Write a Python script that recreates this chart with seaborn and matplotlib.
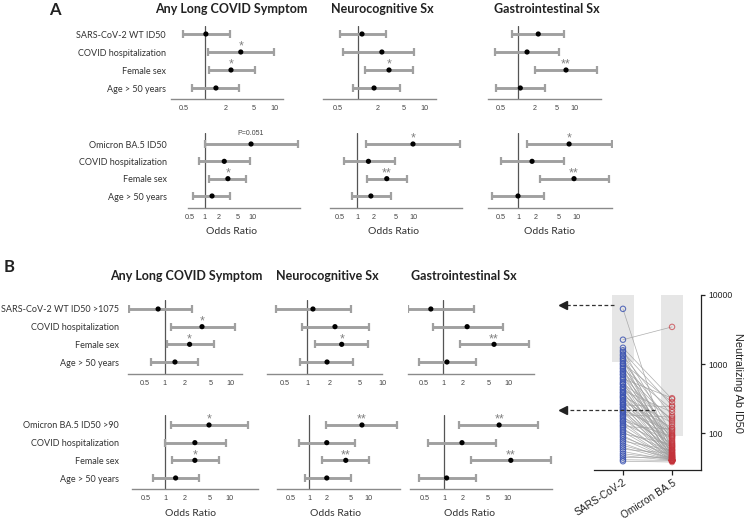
import numpy as np
import pandas as pd
import matplotlib
matplotlib.use("Agg")
import matplotlib.pyplot as plt
from matplotlib.patches import Rectangle
from matplotlib.ticker import NullLocator
import seaborn as sns

# ---------------- data ----------------
labels_A_top = ["SARS-CoV-2 WT ID50", "COVID hospitalization", "Female sex", "Age > 50 years"]
labels_A_bot = ["Omicron BA.5 ID50", "COVID hospitalization", "Female sex", "Age > 50 years"]
labels_B_top = ["SARS-CoV-2 WT ID50 >1075", "COVID hospitalization", "Female sex", "Age > 50 years"]
labels_B_bot = ["Omicron BA.5 ID50 >90", "COVID hospitalization", "Female sex", "Age > 50 years"]
outcomes = ["Any Long COVID Symptom", "Neurocognitive Sx", "Gastrointestinal Sx"]

# odds ratio, lower CI, upper CI, significance
A_top_any_or = [1.03, 3.3, 2.38, 1.44]
A_top_any_lo = [0.48, 1.1, 1.14, 0.65]
A_top_any_hi = [2.3, 10.0, 5.3, 3.1]
A_top_any_sig = ["", "*", "*", ""]
A_top_neu_or = [1.15, 2.3, 2.95, 1.75]
A_top_neu_lo = [0.53, 0.6, 1.28, 0.84]
A_top_neu_hi = [2.65, 7.0, 6.8, 4.3]
A_top_neu_sig = ["", "", "*", ""]
A_top_gi_or = [2.3, 1.45, 7.2, 1.1]
A_top_gi_lo = [0.78, 0.39, 2.0, 0.40]
A_top_gi_hi = [6.6, 5.4, 25.7, 3.0]
A_top_gi_sig = ["", "", "**", ""]

A_bot_any_or = [9.5, 2.6, 3.1, 1.44]
A_bot_any_lo = [1.0, 0.77, 1.25, 0.57]
A_bot_any_hi = [91, 8.9, 7.4, 3.4]
A_bot_any_sig = ["P=0.051", "", "*", ""]
A_bot_neu_or = [10.0, 1.6, 3.4, 1.77]
A_bot_neu_lo = [1.45, 0.59, 1.5, 0.81]
A_bot_neu_hi = [69, 4.8, 7.8, 4.0]
A_bot_neu_sig = ["*", "", "**", ""]
A_bot_gi_or = [7.5, 1.74, 9.1, 1.0]
A_bot_gi_lo = [1.43, 0.51, 2.4, 0.36]
A_bot_gi_hi = [41, 6.1, 36, 2.8]
A_bot_gi_sig = ["*", "", "**", ""]

B_top_any_or = [0.8, 3.7, 2.4, 1.44]
B_top_any_lo = [0.29, 1.25, 1.1, 0.63]
B_top_any_hi = [2.6, 11.7, 5.6, 3.2]
B_top_any_sig = ["", "*", "*", ""]
B_top_neu_or = [1.2, 2.36, 2.9, 1.85]
B_top_neu_lo = [0.39, 0.86, 1.28, 0.81]
B_top_neu_hi = [3.9, 6.7, 6.5, 4.1]
B_top_neu_sig = ["", "", "*", ""]
B_top_gi_or = [0.65, 2.35, 6.1, 1.15]
B_top_gi_lo = [0.29, 0.7, 1.8, 0.43]
B_top_gi_hi = [3.0, 8.4, 21, 3.2]
B_top_gi_sig = ["", "", "**", ""]

B_bot_any_or = [4.8, 2.9, 2.9, 1.46]
B_bot_any_lo = [1.24, 1.0, 1.3, 0.65]
B_bot_any_hi = [19.5, 8.8, 6.9, 3.4]
B_bot_any_sig = ["*", "", "*", ""]
B_bot_neu_or = [7.9, 2.0, 4.2, 2.0]
B_bot_neu_lo = [1.94, 0.68, 1.66, 0.86]
B_bot_neu_hi = [31, 6.0, 10.4, 5.1]
B_bot_neu_sig = ["**", "", "**", ""]
B_bot_gi_or = [7.5, 1.93, 11.5, 1.1]
B_bot_gi_lo = [1.73, 0.56, 2.7, 0.4]
B_bot_gi_hi = [31, 6.7, 50, 3.2]
B_bot_gi_sig = ["**", "", "**", ""]

ticks_no1 = [0.5, 2, 5, 10]
ticks_all = [0.5, 1, 2, 5, 10]

# paired neutralizing titers
wt_id50 = [6300, 2250, 1720, 1580, 1490, 1380, 1310, 1220, 1160, 1090,
           1020, 985, 930, 880, 845, 790, 760, 715, 690, 640,
           615, 580, 545, 520, 505, 470, 455, 430, 415, 392,
           380, 360, 342, 330, 318, 300, 288, 276, 262, 255,
           240, 232, 221, 212, 203, 196, 184, 176, 168, 160,
           151, 146, 138, 130, 124, 117, 110, 104, 98, 92,
           87, 81, 76, 71, 66, 62, 58, 54, 50, 47,
           44, 41, 39]
ba5_id50 = [40, 3450, 310, 95, 250, 60, 180, 75, 45, 130,
            280, 55, 88, 42, 220, 65, 150, 48, 100, 70,
            320, 52, 40, 160, 85, 44, 110, 62, 200, 47,
            78, 40, 140, 58, 92, 43, 120, 66, 40, 240,
            50, 82, 41, 105, 57, 46, 170, 40, 72, 49,
            90, 40, 63, 44, 115, 40, 53, 41, 68, 40,
            47, 40, 56, 40, 43, 40, 51, 40, 42, 40,
            45, 40, 38]
virus_names = ["SARS-CoV-2", "Omicron BA.5"]
wt_cut, ba5_cut = 1075, 90

# ---------------- style ----------------
sns.set_theme(style="white")
plt.rcParams["font.family"] = ["Lato", "DejaVu Sans"]
W, H = 750, 522
fig = plt.figure(figsize=(7.5, 5.22), dpi=100)
TXT = "#333333"


def px_axes(l, t, r, b):
    return fig.add_axes([l / W, 1 - b / H, (r - l) / W, (b - t) / H])


def forest(geom, rows_px, top_px, axis_px, o, lo, hi, sig, ticks, labels=None, lab_right=None):
    l, r, one, ppd = geom
    ax = px_axes(l, top_px, r, axis_px)
    df = pd.DataFrame({"OR": o, "lo": lo, "hi": hi, "row": np.arange(len(o))})
    ax.set_xscale("log")
    ax.errorbar(df["OR"], df["row"], xerr=[df["OR"] - df["lo"], df["hi"] - df["OR"]],
                fmt="none", ecolor="#a0a0a0", elinewidth=2.1, capsize=2.6, capthick=1.6, zorder=2)
    ax.axvline(1, color="#555555", lw=0.9, zorder=1)
    sns.scatterplot(data=df, x="OR", y="row", color="black", s=14, edgecolor="none",
                    zorder=3, ax=ax, legend=False)
    for i, s in enumerate(sig):
        if not s:
            continue
        if s.startswith("P"):
            ax.text(o[i], i - 0.6, s, ha="center", va="center", fontsize=5,
                    color="#444", family=["Liberation Sans"])
        else:
            ax.text(o[i], i - 0.3, s, ha="center", va="center", fontsize=9,
                    color="#808080", family=["Liberation Sans"])
    r0 = rows_px[0]
    dr = (rows_px[-1] - rows_px[0]) / 3
    ax.set_xlim(10 ** ((l - one) / ppd), 10 ** ((r - one) / ppd))
    ax.set_ylim((axis_px - r0) / dr, (top_px - r0) / dr)
    ax.xaxis.set_minor_locator(NullLocator())
    ax.set_xticks(ticks)
    ax.set_xticklabels([("%g" % t) for t in ticks], fontsize=5.2, color="#444",
                       family=["Liberation Sans"])
    ax.tick_params(axis="x", length=0, pad=4.5)
    for sp in ["left", "top", "right"]:
        ax.spines[sp].set_visible(False)
    ax.spines["bottom"].set_color("#8a8a8a")
    ax.spines["bottom"].set_linewidth(1.0)
    if labels is not None:
        ax.set_yticks(range(4))
        ax.set_yticklabels(labels, fontsize=6.5, color=TXT)
        ax.tick_params(axis="y", length=0, pad=(l - lab_right) * 0.72)
    else:
        ax.set_yticks([])
    ax.set_xlabel("")
    ax.set_ylabel("")
    ax.set_facecolor("none")
    return ax


# ---- panel A ----
rowsAt, topAt, axAt = [34, 52, 70, 88], 26, 99
forest((171, 283, 205, 69), rowsAt, topAt, axAt, A_top_any_or, A_top_any_lo, A_top_any_hi,
       A_top_any_sig, ticks_no1, labels_A_top, 166)
forest((323, 436, 358, 66), rowsAt, topAt, axAt, A_top_neu_or, A_top_neu_lo, A_top_neu_hi,
       A_top_neu_sig, ticks_no1)
forest((488, 601, 518, 56), rowsAt, topAt, axAt, A_top_gi_or, A_top_gi_lo, A_top_gi_hi,
       A_top_gi_sig, ticks_no1)

rowsAb, topAb, axAb = [144, 162, 179, 196], 133, 208
forest((188, 300, 204.5, 47.6), rowsAb, topAb, axAb, A_bot_any_or, A_bot_any_lo, A_bot_any_hi,
       A_bot_any_sig, ticks_all, labels_A_bot, 167)
forest((330, 462, 357, 56), rowsAb, topAb, axAb, A_bot_neu_or, A_bot_neu_lo, A_bot_neu_hi,
       A_bot_neu_sig, ticks_all)
forest((488, 612, 518, 58.4), rowsAb, topAb, axAb, A_bot_gi_or, A_bot_gi_lo, A_bot_gi_hi,
       A_bot_gi_sig, ticks_all)

# ---- panel B ----
rowsBt, topBt, axBt = [309, 327, 344, 362], 300, 374
forest((128, 242, 164.5, 66), rowsBt, topBt, axBt, B_top_any_or, B_top_any_lo, B_top_any_hi,
       B_top_any_sig, ticks_all, labels_B_top, 119)
forest((267, 382, 307, 75), rowsBt, topBt, axBt, B_top_neu_or, B_top_neu_lo, B_top_neu_hi,
       B_top_neu_sig, ticks_all)
forest((408, 534, 443, 65), rowsBt, topBt, axBt, B_top_gi_or, B_top_gi_lo, B_top_gi_hi,
       B_top_gi_sig, ticks_all)

rowsBb, topBb, axBb = [425, 443, 461, 478], 415, 489
forest((132, 258, 165, 64.6), rowsBb, topBb, axBb, B_bot_any_or, B_bot_any_lo, B_bot_any_hi,
       B_bot_any_sig, ticks_all, labels_B_bot, 119)
forest((277, 400, 309, 59), rowsBb, topBb, axBb, B_bot_neu_or, B_bot_neu_lo, B_bot_neu_hi,
       B_bot_neu_sig, ticks_all)
forest((410, 552, 444, 63), rowsBb, topBb, axBb, B_bot_gi_or, B_bot_gi_lo, B_bot_gi_hi,
       B_bot_gi_sig, ticks_all)


def ftext(x, y, s, **kw):
    fig.text(x / W, 1 - y / H, s, **kw)


ftext(55, 10, "A", fontsize=12, fontweight="bold", color="#222", ha="center", va="center")
ftext(9, 267, "B", fontsize=12, fontweight="bold", color="#222", ha="center", va="center")
for x, t in zip([231, 382, 547], outcomes):
    ftext(x, 9, t, fontsize=9, fontweight="bold", color="#222", ha="center", va="center")
for x, t in zip([186, 327, 464], outcomes):
    ftext(x, 276, t, fontsize=9, fontweight="bold", color="#222", ha="center", va="center")
for x in [231, 394, 550]:
    ftext(x, 231, "Odds Ratio", fontsize=7.5, color=TXT, ha="center", va="center")
for x in [190, 336, 469]:
    ftext(x, 513, "Odds Ratio", fontsize=7.5, color=TXT, ha="center", va="center")

# ---- right paired panel ----
axr = px_axes(594, 295, 701, 470)
n = len(wt_id50)
long = pd.DataFrame({
    "subj": list(range(n)) * 2,
    "pos": [0] * n + [1] * n,
    "virus": [virus_names[0]] * n + [virus_names[1]] * n,
    "ID50": wt_id50 + ba5_id50,
})
axr.set_yscale("log")
axr.add_patch(Rectangle((-0.23, wt_cut), 0.46, 10000 - wt_cut, color="#e6e6e6", lw=0, zorder=0))
axr.add_patch(Rectangle((0.77, ba5_cut), 0.46, 10000 - ba5_cut, color="#e6e6e6", lw=0, zorder=0))
sns.lineplot(data=long, x="pos", y="ID50", units="subj", estimator=None, color="#a0a0a0",
             lw=0.5, alpha=0.85, ax=axr, legend=False, sort=False, zorder=1)
for name, col, al in zip(virus_names, ["#3850b0", "#c4323a"], [0.8, 0.65]):
    sub = long[long["virus"] == name]
    sns.scatterplot(data=sub, x="pos", y="ID50", ax=axr, s=15, color=col, legend=False, zorder=3)
    coll = axr.collections[-1]
    coll.set_facecolor("none")
    coll.set_edgecolor(col)
    coll.set_linewidth(0.8)
    coll.set_alpha(al)

axr.set_xlim(-0.59, 1.59)
axr.set_ylim(10 ** 1.464, 10000)
axr.yaxis.set_minor_locator(NullLocator())
axr.yaxis.tick_right()
axr.set_yticks([100, 1000, 10000])
axr.set_yticklabels(["100", "1000", "10000"], fontsize=6.2, color="#222", family=["Liberation Sans"])
axr.set_xticks([0, 1])
axr.set_xticklabels(virus_names, fontsize=7.3, color="#222", family=["Liberation Sans"],
                    rotation=33, ha="right", rotation_mode="anchor")
axr.tick_params(axis="y", right=True, left=False, length=3, width=0.9, pad=2, color="#222")
axr.tick_params(axis="x", bottom=True, length=3.5, width=0.9, pad=2, color="#222")
for sp in ["left", "top"]:
    axr.spines[sp].set_visible(False)
for sp in ["right", "bottom"]:
    axr.spines[sp].set_color("#222")
    axr.spines[sp].set_linewidth(0.9)
axr.set_xlabel("")
axr.set_ylabel("")
axr.set_facecolor("none")
ftext(738, 383, "Neutralizing Ab ID50", rotation=270, fontsize=7.8, color="#222",
      family=["Liberation Sans"], ha="center", va="center")

# dashed arrows pointing to panel B
for x0, yv in [(-0.18, 7160), (0.65, 215)]:
    axr.plot([x0, -1.18], [yv, yv], ls=(0, (3, 2)), color="#333", lw=0.9, clip_on=False, zorder=4)
    axr.plot([-1.22], [yv], marker="<", ms=5.5, color="#222", mec="#222", clip_on=False, zorder=4)

fig.savefig("out.png", dpi=100)
